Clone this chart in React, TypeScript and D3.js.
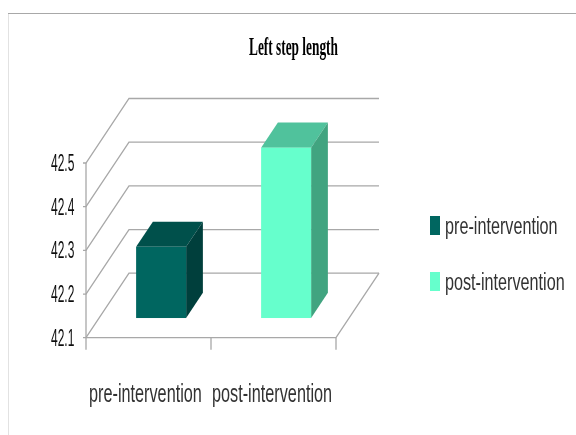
import React from "react";
import * as d3 from "d3";

const categories = ["pre-intervention", "post-intervention"];
const values = [42.263, 42.49];
const ticks = [42.1, 42.2, 42.3, 42.4, 42.5];
const frontColors = ["#006660", "#66ffcc"];
const topColors = ["#00504b", "#50c29c"];
const sideColors = ["#003f3c", "#41a480"];
const legendColors = ["#006660", "#66ffcc"];

const W = 576, H = 435;
const X0 = 86, X1 = 336;
const depthX = 43, depthY = 64.5;
const frontDepth = 0.305, backDepth = 0.695;

const y = d3.scaleLinear().domain([42.1, 42.5]).range([337.7, 163]);
const x = d3.scaleBand<string>().domain(categories).range([X0, X1]);
const BAR_W = 50;

const pts = (p: [number, number][]) => p.map((a) => a.join(",")).join(" ");
const line = d3.line();

function Squeezed({ x, y, sx, size, family = "Liberation Sans", weight, fill, children }: any) {
  return (
    <text transform={`translate(${x},${y}) scale(${sx},1)`} fontFamily={family} fontWeight={weight} fontSize={size} fill={fill}>
      {children}
    </text>
  );
}

export default function App() {
  const grid = "#a8a8a8";
  const f = y(42.1);
  return (
    <svg width={W} height={H} viewBox={`0 0 ${W} ${H}`} style={{ position: "absolute", left: 0, top: 0, background: "#fff" }}>
      <defs>
        <filter id="soft" x="-5%" y="-20%" width="110%" height="140%">
          <feGaussianBlur stdDeviation="0.45" />
        </filter>
      </defs>
      <path d="M8.5,435 V13.5" fill="none" stroke="#e2e2e2" strokeWidth={1} />
      <path d="M8,13.5 H576" fill="none" stroke="#a8a8a8" strokeWidth={1.2} />

      <g stroke={grid} strokeWidth={1.3} fill="none">
        {ticks.map((t) => (
          <path key={t} d={line([[X0 - 3, y(t)], [X0, y(t)], [X0 + depthX, y(t) - depthY], [X1 + depthX, y(t) - depthY]]) ?? ""} />
        ))}
        <path d={line([[X0, y(42.5)], [X0, f + 12]]) ?? ""} />
        <path d={line([[X0, f], [X1, f], [X1 + depthX, f - depthY]]) ?? ""} />
        {[X0 + (X1 - X0) / 2, X1].map((v) => (
          <path key={v} d={line([[v, f], [v, f + 12]]) ?? ""} />
        ))}
      </g>

      {categories.map((c, i) => {
        const cx = (x(c) ?? 0) + x.bandwidth() / 2 + depthX * frontDepth;
        const l = cx - BAR_W / 2 - 0.5, r = cx + BAR_W / 2 - 0.5;
        const up = depthY * frontDepth;
        const bot = y(42.1) - up, top = y(values[i]) - up;
        const dx = depthX * (backDepth - frontDepth), dy = depthY * (backDepth - frontDepth);
        return (
          <g key={c}>
            <polygon points={pts([[l, top], [r, top], [r + dx, top - dy], [l + dx, top - dy]])} fill={topColors[i]} />
            <polygon points={pts([[r, top], [r + dx, top - dy], [r + dx, bot - dy], [r, bot]])} fill={sideColors[i]} />
            <rect x={l} y={top} width={BAR_W} height={bot - top} fill={frontColors[i]} />
          </g>
        );
      })}

      <g filter="url(#soft)">
        <Squeezed x={249} y={55} sx={0.534} size={25} family="Liberation Serif" weight="bold" fill="#000">Left step length</Squeezed>
        {ticks.map((t) => (
          <Squeezed key={t} x={51} y={y(t) + 8} sx={0.5} size={24} fill="#111">{t.toFixed(1)}</Squeezed>
        ))}
        {categories.map((c, i) => (
          <Squeezed key={c} x={[89, 212][i]} y={402} sx={0.65} size={25} fill="#333">{c}</Squeezed>
        ))}
        {categories.map((c, i) => (
          <g key={c}>
            <rect x={430} y={216 + i * 56} width={10} height={19} fill={legendColors[i]} />
            <Squeezed x={445} y={234 + i * 56} sx={0.675} size={24} fill="#333">{c}</Squeezed>
          </g>
        ))}
      </g>
    </svg>
  );
}
